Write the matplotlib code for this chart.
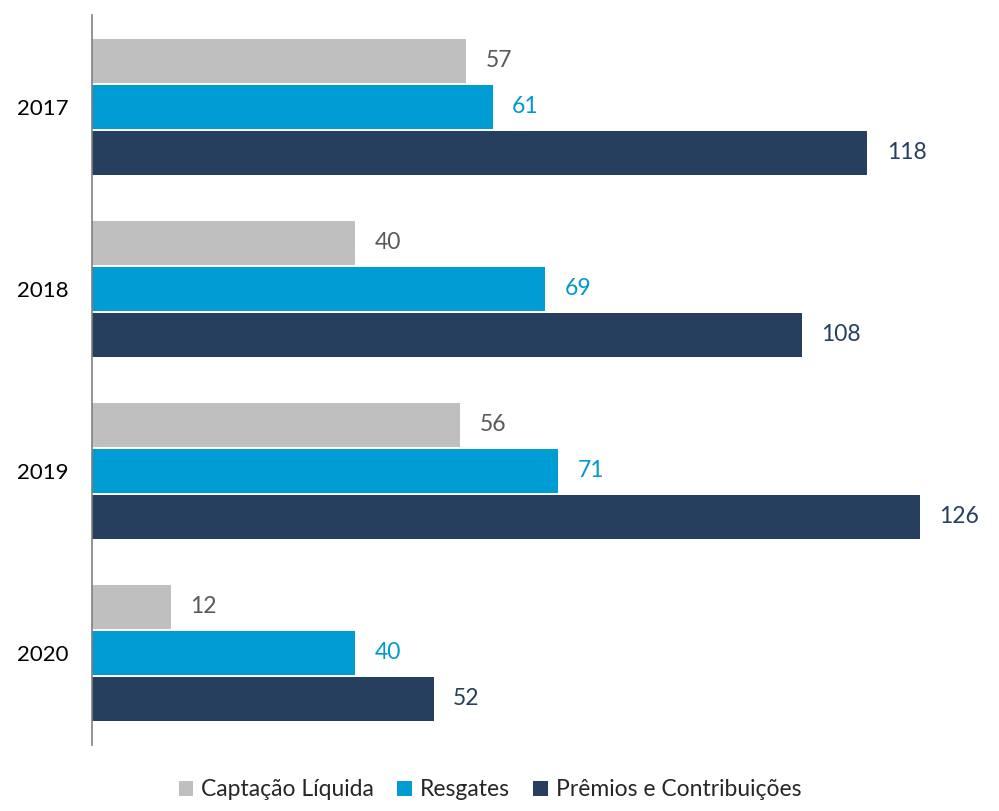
import numpy as np
import matplotlib.pyplot as plt
from matplotlib.patches import Patch

plt.rcParams['font.family'] = ['Lato', 'DejaVu Sans']

years = ['2017', '2018', '2019', '2020']
series = ['Captação Líquida', 'Resgates', 'Prêmios e Contribuições']
captacao = [57, 40, 56, 12]
resgates = [61, 69, 71, 40]
premios = [118, 108, 126, 52]

bar_colors = ['#BFBFBF', '#009DD4', '#263F5F']
label_colors = ['#595959', '#0099CC', '#263F5F']

fig = plt.figure(figsize=(9.99, 8.11), dpi=100)
ax = fig.add_axes([92 / 999, 1 - 745 / 811, 1 - 92 / 999, (745 - 15) / 811])

y = np.arange(len(years))
pitch = 46 / 182
height = 44 / 182
for k, vals in enumerate([captacao, resgates, premios]):
    pos = y + (k - 1) * pitch
    ax.barh(pos, vals, height=height, color=bar_colors[k])
    for p, v in zip(pos, vals):
        ax.annotate(str(v), (v, p), xytext=(14, 0), textcoords='offset points',
                    va='center', ha='left', fontsize=16.5, color=label_colors[k])

ax.set_xlim(0, (999 - 92) / 6.57)
ax.set_ylim(3.508, -0.503)
ax.set_yticks(y)
ax.set_yticklabels(years, fontsize=16, color='black')
ax.tick_params(axis='y', length=0, pad=17)
ax.set_xticks([])
for s in ['top', 'right', 'bottom']:
    ax.spines[s].set_visible(False)
ax.spines['left'].set_color('#808080')
ax.spines['left'].set_linewidth(1.2)

handles = [Patch(facecolor=c, label=l) for c, l in zip(bar_colors, series)]
fig.legend(handles=handles, loc='center', bbox_to_anchor=(490 / 999, 1 - 790 / 811),
           ncol=3, frameon=False, fontsize=16.5, handlelength=0.65, handleheight=0.65,
           handletextpad=0.35, columnspacing=1.0, labelcolor='#262626')

fig.savefig('out.png', dpi=100)
